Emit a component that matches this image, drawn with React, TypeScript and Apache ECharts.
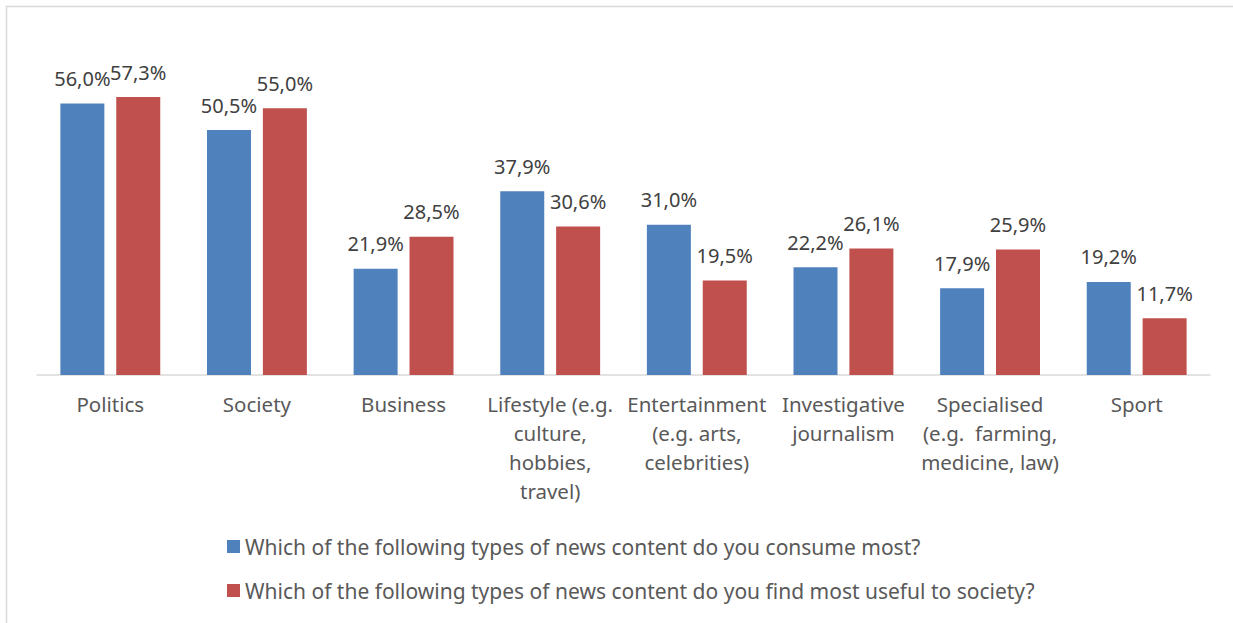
import React, { useEffect, useRef } from "react";
import * as echarts from "echarts";

const categories = [
  "Politics",
  "Society",
  "Business",
  "Lifestyle (e.g.\nculture,\nhobbies,\ntravel)",
  "Entertainment\n(e.g. arts,\ncelebrities)",
  "Investigative\njournalism",
  "Specialised\n(e.g.  farming,\nmedicine, law)",
  "Sport",
];
const consumeMost = [56.0, 50.5, 21.9, 37.9, 31.0, 22.2, 17.9, 19.2];
const mostUseful = [57.3, 55.0, 28.5, 30.6, 19.5, 26.1, 25.9, 11.7];
const seriesNames = [
  "Which of the following types of news content do you consume most?",
  "Which of the following types of news content do you find most useful to society?",
];

const FONT = "'Noto Sans', 'Open Sans', sans-serif";
const fmt = (v: number) => v.toFixed(1).replace(".", ",") + "%";

export default function App() {
  const ref = useRef<HTMLDivElement>(null);
  useEffect(() => {
    if (!ref.current) return;
    const chart = echarts.init(ref.current, null, { renderer: "svg" });
    const label = {
      show: true,
      position: "top",
      distance: 15,
      color: "#404040",
      fontSize: 20,
      fontFamily: FONT,
      formatter: (p: any) => fmt(p.value),
    };
    chart.setOption({
      animation: false,
      backgroundColor: "#ffffff",
      graphic: [
        {
          type: "rect",
          shape: { x: 6.5, y: 6.5, width: 1400, height: 800 },
          style: { fill: "none", stroke: "#d9d9d9", lineWidth: 1.5 },
          silent: true,
        },
      ],
      grid: { left: 37, right: 23, top: 84, bottom: 248, containLabel: false },
      xAxis: {
        type: "category",
        data: categories,
        axisLine: { show: true, lineStyle: { color: "#d9d9d9", width: 1.5 } },
        axisTick: { show: false },
        axisLabel: {
          interval: 0,
          color: "#595959",
          fontSize: 20.5,
          fontFamily: FONT,
          lineHeight: 29,
          margin: 14,
        },
      },
      yAxis: {
        type: "value",
        min: 0,
        max: 60,
        show: false,
        splitLine: { show: false },
      },
      legend: {
        orient: "vertical",
        left: 222,
        top: 527,
        itemWidth: 13,
        itemHeight: 13,
        itemGap: 15,
        icon: "rect",
        textStyle: { color: "#595959", fontSize: 21, fontFamily: FONT, lineHeight: 29 },
        data: seriesNames,
      },
      series: [
        {
          name: seriesNames[0],
          type: "bar",
          data: consumeMost,
          barWidth: 44,
          barGap: "27%",
          itemStyle: { color: "#4f81bd" },
          label,
        },
        {
          name: seriesNames[1],
          type: "bar",
          data: mostUseful,
          barWidth: 44,
          barGap: "27%",
          itemStyle: { color: "#c0504d" },
          label,
        },
      ],
    });
    return () => chart.dispose();
  }, []);
  return (
    <div
      ref={ref}
      style={{ position: "fixed", left: 0, top: 0, width: 1233, height: 623 }}
    />
  );
}
